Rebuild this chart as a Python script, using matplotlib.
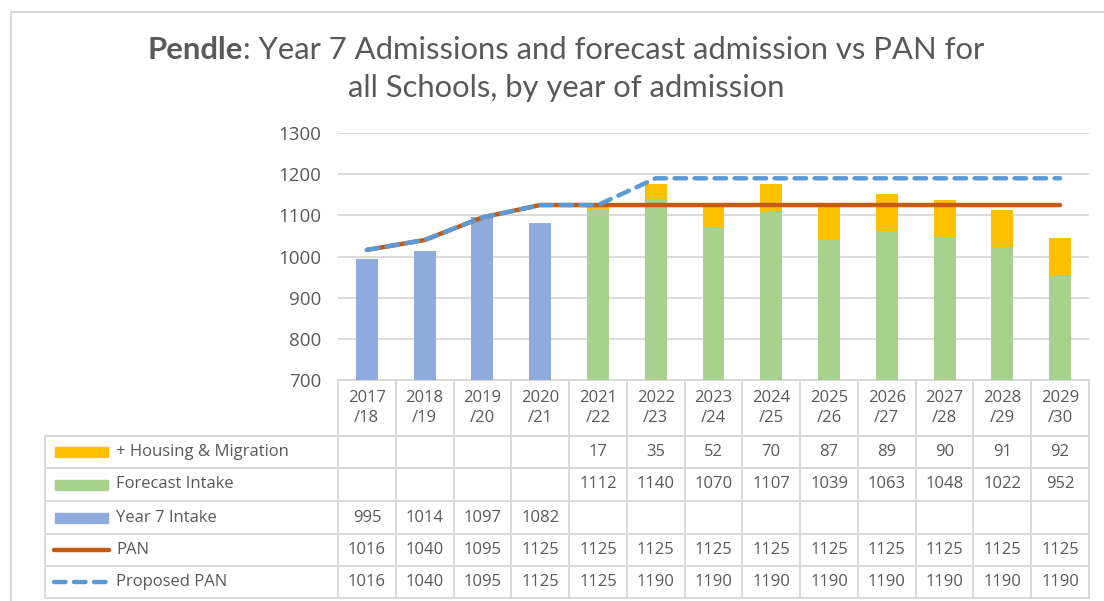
"""Pendle Year 7 admissions vs PAN, with data table underneath."""

import matplotlib
matplotlib.use("Agg")
import matplotlib.pyplot as plt
import numpy as np

years = ["2017\n/18", "2018\n/19", "2019\n/20", "2020\n/21", "2021\n/22", "2022\n/23",
         "2023\n/24", "2024\n/25", "2025\n/26", "2026\n/27", "2027\n/28", "2028\n/29",
         "2029\n/30"]
housing = [None, None, None, None, 17, 35, 52, 70, 87, 89, 90, 91, 92]
forecast = [None, None, None, None, 1112, 1140, 1070, 1107, 1039, 1063, 1048, 1022, 952]
intake = [995, 1014, 1097, 1082, None, None, None, None, None, None, None, None, None]
pan = [1016, 1040, 1095, 1125, 1125, 1125, 1125, 1125, 1125, 1125, 1125, 1125, 1125]
proposed_pan = [1016, 1040, 1095, 1125, 1125, 1190, 1190, 1190, 1190, 1190, 1190, 1190, 1190]

C_INTAKE = "#8FAADC"
C_FORECAST = "#A9D18E"
C_HOUSING = "#FFC000"
C_PAN = "#C55A11"
C_PROP = "#5B9BD5"
TXT = "#595959"
GRID = "#D9D9D9"

plt.rcParams['font.family'] = ['Open Sans', 'DejaVu Sans']
plt.rcParams['font.size'] = 12

W, H = 1104, 601
fig = plt.figure(figsize=(W / 100, H / 100), dpi=100)

# plot area in pixels
L, R, T, B = 338, 1089, 133, 380
ax = fig.add_axes([L / W, 1 - B / H, (R - L) / W, (B - T) / H])

n = len(years)
x = np.arange(n)
to_num = lambda v: np.array([np.nan if a is None else a for a in v], dtype=float)
intake_a = to_num(intake)
forecast_a = to_num(forecast)
housing_a = to_num(housing)

bw = 0.38
ax.bar(x, intake_a - 700, bottom=700, width=bw, color=C_INTAKE, zorder=2)
ax.bar(x, forecast_a - 700, bottom=700, width=bw, color=C_FORECAST, zorder=2)
ax.bar(x, housing_a, bottom=forecast_a, width=bw, color=C_HOUSING, zorder=2)
ax.plot(x, pan, color=C_PAN, lw=3.2, solid_capstyle="round", zorder=3)
ax.plot(x, proposed_pan, color=C_PROP, lw=3.2, dashes=(2.6, 1.9),
        dash_capstyle="round", zorder=4)

ax.set_xlim(-0.5, n - 0.5)
ax.set_ylim(700, 1300)
ax.set_yticks(range(700, 1301, 100))
ax.tick_params(axis="y", length=0, pad=12, labelcolor=TXT, labelsize=13.5)
ax.set_xticks([])
for s in ["top", "right", "left", "bottom"]:
    ax.spines[s].set_visible(False)
ax.yaxis.grid(True, color=GRID, lw=1.3, zorder=0)
ax.set_axisbelow(True)

# ---- data table below the axis ----
tr = ax.get_xaxis_transform()
colw = (R - L) / n
px2x = lambda px: (px - L) / colw - 0.5
py2f = lambda py: (B - py) / (B - T)

rows_y = [380, 436, 468, 501, 534, 566, 598]
tbl_left = px2x(45)
line_kw = dict(color=GRID, lw=1.4, transform=tr, clip_on=False, zorder=1)

# horizontal lines
ax.plot([-0.5, n - 0.5], [py2f(380)] * 2, **line_kw)
for yy in rows_y[1:]:
    ax.plot([tbl_left, n - 0.5], [py2f(yy)] * 2, **line_kw)
# vertical lines
for i in range(n + 1):
    ax.plot([i - 0.5] * 2, [py2f(380), py2f(598)], **line_kw)
ax.plot([tbl_left] * 2, [py2f(436), py2f(598)], **line_kw)

# header labels
for i, lab in enumerate(years):
    ax.text(i, py2f(408), lab, transform=tr, ha="center", va="center",
            color=TXT, fontsize=12, linespacing=1.25)

row_data = [housing, forecast, intake, pan, proposed_pan]
row_names = ["+ Housing & Migration", "Forecast Intake", "Year 7 Intake", "PAN", "Proposed PAN"]
for r, (vals, name) in enumerate(zip(row_data, row_names)):
    yc = py2f((rows_y[r + 1] + rows_y[r + 2]) / 2)
    for i, v in enumerate(vals):
        if v is not None:
            ax.text(i, yc, str(v), transform=tr, ha="center", va="center",
                    color=TXT, fontsize=12)
    ax.text(px2x(116), yc, name, transform=tr, ha="left", va="center",
            color=TXT, fontsize=12)

# legend keys in the table
sw_h = 10 / (B - T)
for r, col in enumerate([C_HOUSING, C_FORECAST, C_INTAKE]):
    yc = py2f((rows_y[r + 1] + rows_y[r + 2]) / 2)
    ax.add_patch(plt.Rectangle((px2x(55), yc - sw_h / 2), px2x(108) - px2x(55), sw_h,
                               color=col, transform=tr, clip_on=False))
yc = py2f((rows_y[4] + rows_y[5]) / 2)
ax.plot([px2x(54), px2x(109)], [yc, yc], color=C_PAN, lw=3.2, solid_capstyle="round",
        transform=tr, clip_on=False)
yc = py2f((rows_y[5] + rows_y[6]) / 2)
ax.plot([px2x(54), px2x(109)], [yc, yc], color=C_PROP, lw=3.2, dashes=(2.6, 1.9),
        dash_capstyle="round", transform=tr, clip_on=False)

# ---- title (bold "Pendle" then regular text), sized to span ~839 px ----
fig.canvas.draw()
rend = fig.canvas.get_renderer()
cx = 566 / W
tfont = ['Lato', 'DejaVu Sans']
t1 = fig.text(0, 1 - 50 / H, "Pendle", fontsize=20, fontweight="bold", color=TXT,
              va="center", family=tfont)
t2 = fig.text(0, 1 - 50 / H, ": Year 7 Admissions and forecast admission vs PAN for",
              fontsize=20, color=TXT, va="center", family=tfont)
tot = t1.get_window_extent(rend).width + t2.get_window_extent(rend).width
fs = 20 * 839 / tot
t1.set_fontsize(fs)
t2.set_fontsize(fs)
w1 = t1.get_window_extent(rend).width / W
w2 = t2.get_window_extent(rend).width / W
start = cx - (w1 + w2) / 2
t1.set_x(start)
t2.set_x(start + w1)
fig.text(cx, 1 - 88 / H, "all Schools, by year of admission", fontsize=fs,
         color=TXT, ha="center", va="center", family=tfont)

# chart border
fig.add_artist(plt.Rectangle((11 / W, -0.1), 1.2, 1 - 12 / H + 0.1, fill=False,
                             edgecolor=GRID, lw=1.5, transform=fig.transFigure))

fig.savefig("out.png", dpi=100)
